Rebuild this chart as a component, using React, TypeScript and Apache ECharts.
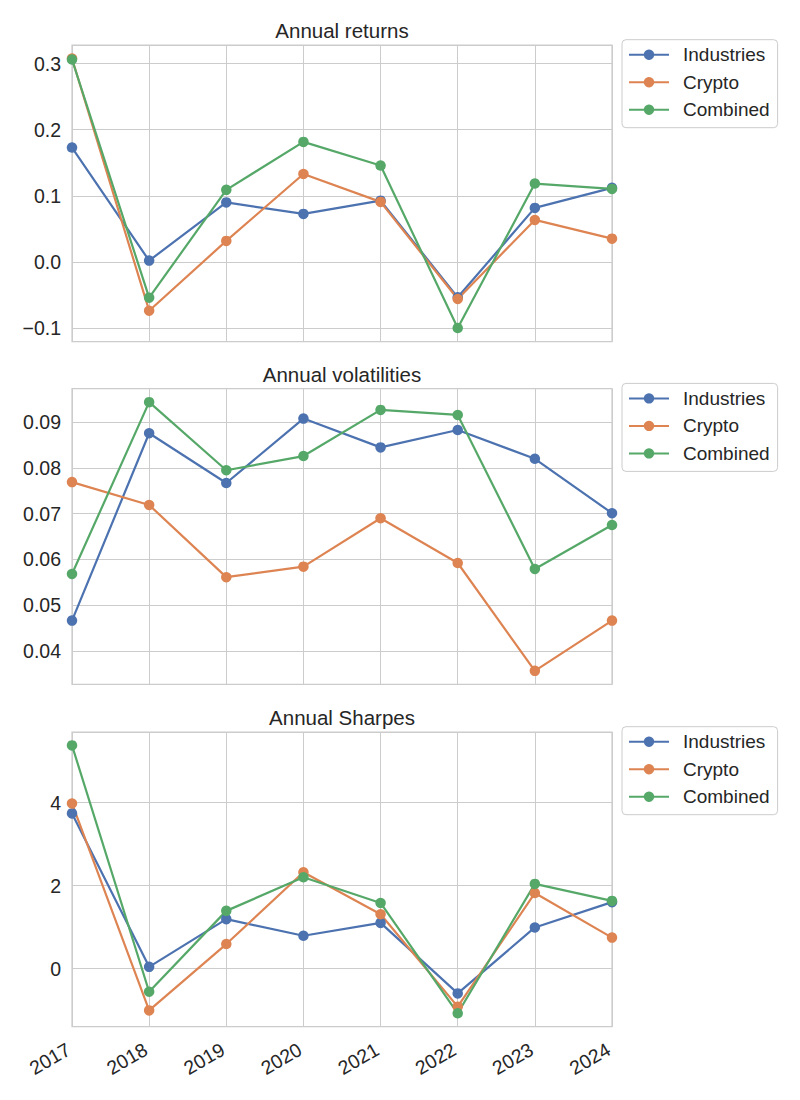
import React, { useEffect, useRef } from "react";
import * as echarts from "echarts";

const years = ["2017", "2018", "2019", "2020", "2021", "2022", "2023", "2024"];
const seriesNames = ["Industries", "Crypto", "Combined"];
const panelTitles = ["Annual returns", "Annual volatilities", "Annual Sharpes"];

const returnsIndustries = [0.173, 0.002, 0.09, 0.0726, 0.0927, -0.0535, 0.0817, 0.112];
const returnsCrypto = [0.3076, -0.0737, 0.0318, 0.133, 0.0908, -0.056, 0.0635, 0.0352];
const returnsCombined = [0.306, -0.054, 0.109, 0.1815, 0.1457, -0.0999, 0.1185, 0.1104];

const volIndustries = [0.0466, 0.0876, 0.0767, 0.0908, 0.0845, 0.0883, 0.082, 0.0701];
const volCrypto = [0.0769, 0.0719, 0.0561, 0.0584, 0.069, 0.0592, 0.0356, 0.0466];
const volCombined = [0.0568, 0.0944, 0.0795, 0.0826, 0.0927, 0.0916, 0.0579, 0.0675];

const sharpeIndustries = [3.74, 0.04, 1.19, 0.79, 1.1, -0.6, 0.99, 1.6];
const sharpeCrypto = [3.98, -1.01, 0.59, 2.32, 1.31, -0.92, 1.82, 0.745];
const sharpeCombined = [5.38, -0.56, 1.39, 2.2, 1.58, -1.08, 2.04, 1.63];

const panelData = [
  [returnsIndustries, returnsCrypto, returnsCombined],
  [volIndustries, volCrypto, volCombined],
  [sharpeIndustries, sharpeCrypto, sharpeCombined],
];
const tickIntervals = [0.1, 0.01, 2];
const tickDecimals = [1, 2, 0];
const splitNumbers = [5, 6, 4];

const colors = ["#4C72B0", "#DD8452", "#55A868"];
const FONT = "'Liberation Sans', Arial, sans-serif";
const TEXT = "#262626";
const GRIDC = "#cccccc";

const gridTops = [45, 388.7, 732];
const gridHeights = [296.5, 295.6, 294.7];
const titleTops = [20, 364, 707];
const legendTops = [39.7, 383.4, 726.7];

function App() {
  const ref = useRef<HTMLDivElement>(null);
  useEffect(() => {
    if (!ref.current) return;
    const chart = echarts.init(ref.current, undefined, { renderer: "svg" });

    const grids: any[] = [];
    const xAxes: any[] = [];
    const yAxes: any[] = [];
    const series: any[] = [];
    const titles: any[] = [];
    const legends: any[] = [];

    panelData.forEach((sets, p) => {
      const all = ([] as number[]).concat(...sets);
      const lo = Math.min(...all);
      const hi = Math.max(...all);
      const pad = (hi - lo) * 0.05;
      const iv = tickIntervals[p];
      grids.push({
        left: 72,
        width: 540,
        top: gridTops[p],
        height: gridHeights[p],
        show: true,
        borderColor: GRIDC,
        borderWidth: 1.25,
        backgroundColor: "#ffffff",
      });
      xAxes.push({
        type: "category",
        gridIndex: p,
        data: years,
        boundaryGap: false,
        axisLine: { show: false },
        axisTick: { show: false },
        splitLine: { show: true, lineStyle: { color: GRIDC, width: 1 } },
        axisLabel: {
          show: p === 2,
          rotate: 30,
          margin: 19,
          padding: [0, 4, 0, 0],
          fontSize: 19.5,
          color: TEXT,
          fontFamily: FONT,
        },
      });
      yAxes.push({
        type: "value",
        gridIndex: p,
        min: lo - pad,
        max: hi + pad,
        splitNumber: splitNumbers[p],
        axisLine: { show: false },
        axisTick: { show: false },
        splitLine: { show: true, lineStyle: { color: GRIDC, width: 1 } },
        axisLabel: {
          margin: 11,
          fontSize: 19.5,
          color: TEXT,
          fontFamily: FONT,
          formatter: (v: number) => {
            const r = v / iv;
            if (Math.abs(r - Math.round(r)) > 1e-6) return "";
            const s = (Math.round(r) * iv).toFixed(tickDecimals[p]);
            return s.replace("-", "\u2212");
          },
        },
      });
      sets.forEach((vals, s) => {
        series.push({
          type: "line",
          name: seriesNames[s],
          xAxisIndex: p,
          yAxisIndex: p,
          data: vals,
          symbol: "circle",
          symbolSize: 10.5,
          showSymbol: true,
          color: colors[s],
          itemStyle: { color: colors[s] },
          lineStyle: { color: colors[s], width: 2.2 },
          emphasis: { disabled: true },
        });
      });
      titles.push({
        text: panelTitles[p],
        left: 342,
        top: titleTops[p],
        textAlign: "center",
        padding: 0,
        textStyle: { fontSize: 20.5, fontWeight: "normal", color: TEXT, fontFamily: FONT },
      });
      legends.push({
        data: seriesNames,
        orient: "vertical",
        left: 622,
        top: legendTops[p],
        itemWidth: 40,
        itemHeight: 13,
        itemGap: 7.5,
        padding: [5, 8, 8, 6],
        borderColor: GRIDC,
        borderWidth: 1,
        borderRadius: 4,
        backgroundColor: "#ffffff",
        selectedMode: false,
        textStyle: {
          fontSize: 19,
          color: TEXT,
          fontFamily: FONT,
          lineHeight: 20,
          padding: [0, 0, 0, 9],
        },
      });
    });

    chart.setOption({
      animation: false,
      backgroundColor: "#ffffff",
      color: colors,
      title: titles,
      legend: legends,
      grid: grids,
      xAxis: xAxes,
      yAxis: yAxes,
      series,
    });
    return () => chart.dispose();
  }, []);
  return (
    <div
      ref={ref}
      style={{ position: "absolute", left: 0, top: 0, width: 800, height: 1100 }}
    />
  );
}

export default App;
